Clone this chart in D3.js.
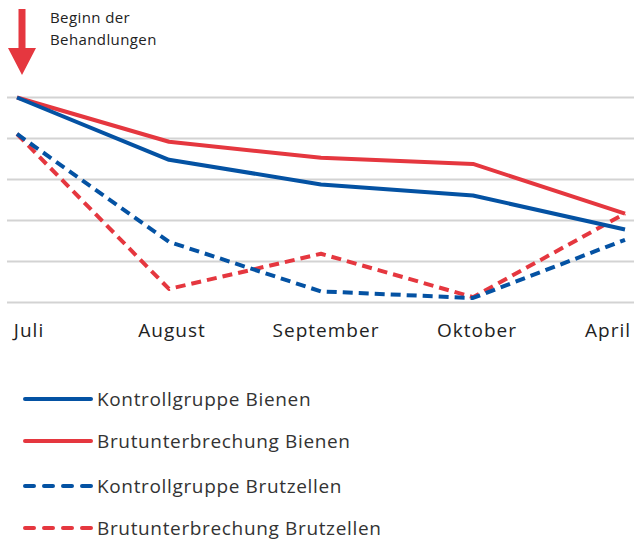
<!DOCTYPE html>
<html><head><meta charset="utf-8">
<script src="https://cdn.jsdelivr.net/npm/d3@7"></script>
<style>body{margin:0;background:#fff}svg{display:block}text{font-family:"Open Sans","Noto Sans",sans-serif}</style>
</head><body><svg id="c" width="634" height="541"></svg>
<script>
const months = ["Juli","August","September","Oktober","April"];
const kontrollBienen = [5.0, 3.48, 2.88, 2.61, 1.78];
const brutBienen = [5.0, 3.92, 3.53, 3.38, 2.17];
const kontrollBrutzellen = [4.11, 1.48, 0.27, 0.11, 1.53];
const brutBrutzellen = [4.11, 0.33, 1.19, 0.13, 2.17];
const gridTicks = [0,1,2,3,4,5];
const seriesNames = ["Kontrollgruppe Bienen","Brutunterbrechung Bienen","Kontrollgruppe Brutzellen","Brutunterbrechung Brutzellen"];

const blue = "#0452a3", red = "#e5373f";
const series = [
  {name: seriesNames[0], values: kontrollBienen, color: blue, dash: null},
  {name: seriesNames[1], values: brutBienen, color: red, dash: null},
  {name: seriesNames[2], values: kontrollBrutzellen, color: blue, dash: "10,6"},
  {name: seriesNames[3], values: brutBrutzellen, color: red, dash: "10,6"}
];

const svg = d3.select("#c");
const x = d3.scalePoint().domain(months).range([17, 625]);
const y = d3.scaleLinear().domain([0,5]).range([302.5, 97.5]);

// gridlines
svg.append("g").selectAll("line").data(gridTicks).join("line")
  .attr("x1", 7).attr("x2", 634)
  .attr("y1", d => y(d)).attr("y2", d => y(d))
  .attr("stroke", "#d3d3d3").attr("stroke-width", 2);

// x labels
const labelX = {Juli: 29, August: 172, September: 326, Oktober: 477, April: 608};
const xa = d3.axisBottom(x).tickSize(0).tickPadding(0);
const gx = svg.append("g").attr("transform", "translate(0,323)").call(xa);
gx.select(".domain").remove();
gx.selectAll(".tick").attr("transform", d => `translate(${labelX[d]},0)`);
gx.selectAll("text").attr("font-size", 19).attr("fill", "#222")
  .attr("letter-spacing", 1.0)
  .attr("font-family", "'Open Sans','Noto Sans',sans-serif").attr("dy", "0.71em");

// lines
const line = d3.line().x((d,i) => x(months[i])).y(d => y(d));
svg.append("g").selectAll("path").data(series.slice().reverse()).join("path")
  .attr("d", d => line(d.values))
  .attr("fill", "none").attr("stroke", d => d.color)
  .attr("stroke-width", 4).attr("stroke-linejoin", "round")
  .attr("stroke-dasharray", d => d.dash);

// annotation arrow
svg.append("path")
  .attr("d", "M18.5,9 L25.5,9 L25.5,48 L36,48 L22,75 L8,48 L18.5,48 Z")
  .attr("fill", red);
svg.append("text").attr("x", 50).attr("y", 23).attr("font-size", 15).attr("letter-spacing", 0.4).attr("fill", "#222").text("Beginn der");
svg.append("text").attr("x", 50).attr("y", 45).attr("font-size", 15).attr("letter-spacing", 0.4).attr("fill", "#222").text("Behandlungen");

// legend
const ly = [399, 441, 486, 528];
const lg = svg.append("g").selectAll("g").data(series).join("g")
  .attr("transform", (d,i) => `translate(0,${ly[i]})`);
lg.append("line").attr("x1", 25).attr("x2", 91).attr("y1", 0).attr("y2", 0)
  .attr("stroke", d => d.color).attr("stroke-width", 4)
  .attr("stroke-linecap", "round")
  .attr("stroke-dasharray", d => d.dash ? "9,10" : null);
lg.append("text").attr("x", 97).attr("y", 0).attr("dy", "0.35em")
  .attr("font-size", 19).attr("letter-spacing", 0.65).attr("fill", "#333").text(d => d.name);
</script></body></html>
